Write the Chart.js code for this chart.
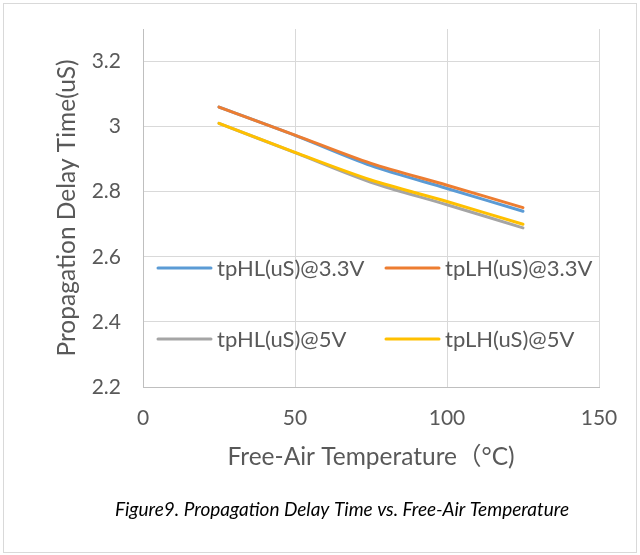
<!DOCTYPE html>
<html>
<head>
<meta charset="utf-8">
<script src="https://cdn.jsdelivr.net/npm/chart.js@4.4.0/dist/chart.umd.min.js"></script>
<style>
html,body{margin:0;padding:0;background:#fff;}
#wrap{width:640px;height:555px;position:relative;}
</style>
</head>
<body>
<div id="wrap"><canvas id="c" width="640" height="555"></canvas></div>
<script>
const temperatures = [25, 50, 75, 100, 125];
const tpHL33 = [3.06, 2.973, 2.88, 2.81, 2.74];
const tpLH33 = [3.06, 2.974, 2.887, 2.82, 2.751];
const tpHL5 = [3.01, 2.92, 2.829, 2.76, 2.689];
const tpLH5 = [3.01, 2.921, 2.836, 2.77, 2.70];
const seriesLabels = ['tpHL(uS)@3.3V', 'tpLH(uS)@3.3V', 'tpHL(uS)@5V', 'tpLH(uS)@5V'];
const seriesColors = ['#5B9BD5', '#ED7D31', '#A5A5A5', '#FFC000'];
const xTicks = [0, 50, 100, 150];
const yTicks = [2.2, 2.4, 2.6, 2.8, 3.0, 3.2];
const captionText = 'Figure9. Propagation Delay Time vs. Free-Air Temperature';

const seriesValues = [tpHL33, tpLH33, tpHL5, tpLH5];
const FONT = "Lato, 'Noto Sans CJK SC', sans-serif";
const TXT = '#595959';

const datasets = seriesValues.map((vals, i) => ({
  label: seriesLabels[i],
  data: vals.map((v, j) => ({x: temperatures[j], y: v})),
  borderColor: seriesColors[i],
  backgroundColor: seriesColors[i],
  borderWidth: 3,
  pointRadius: 0,
  tension: 0.3,
  fill: false,
  order: seriesValues.length - i,
  borderCapStyle: 'round'
}));

const frame = {
  id: 'frame',
  beforeDraw(chart) {
    const ctx = chart.ctx;
    ctx.save();
    ctx.fillStyle = '#fff';
    ctx.fillRect(0, 0, chart.width, chart.height);
    ctx.strokeStyle = '#d9d9d9';
    ctx.lineWidth = 1;
    ctx.strokeRect(3.5, 3.5, 633, 549);
    ctx.fillStyle = '#000';
    ctx.font = "italic 19px " + FONT;
    ctx.textAlign = 'center';
    ctx.textBaseline = 'middle';
    ctx.fillText(captionText, 342, 510);
    ctx.restore();
  }
};

const legendInside = {
  id: 'legendInside',
  afterDatasetsDraw(chart) {
    const ctx = chart.ctx;
    const a = chart.chartArea;
    const rows = [a.top + 239, a.top + 310];
    const cols = [a.left + 15, a.left + 243];
    ctx.save();
    ctx.font = "22px " + FONT;
    ctx.textBaseline = 'middle';
    ctx.textAlign = 'left';
    chart.data.datasets.forEach((ds, i) => {
      const r = rows[Math.floor(i / 2)];
      const c = cols[i % 2];
      ctx.strokeStyle = ds.borderColor;
      ctx.lineWidth = 3;
      ctx.lineCap = 'round';
      ctx.beginPath();
      ctx.moveTo(c, r);
      ctx.lineTo(c + 53, r);
      ctx.stroke();
      ctx.fillStyle = TXT;
      ctx.fillText(ds.label, c + 59, r + 1);
    });
    ctx.restore();
  }
};

const noPad = s => { s.paddingTop = 0; s.paddingBottom = 0; s.paddingLeft = 0; s.paddingRight = 0; };

new Chart(document.getElementById('c'), {
  type: 'line',
  data: {datasets},
  plugins: [frame, legendInside],
  options: {
    responsive: false,
    animation: false,
    devicePixelRatio: 1,
    layout: {padding: {top: 29, right: 41, left: 0, bottom: 65.2}},
    plugins: {
      legend: {display: false},
      tooltip: {enabled: false},
      title: {display: false}
    },
    scales: {
      x: {
        type: 'linear',
        min: xTicks[0],
        max: xTicks[xTicks.length - 1],
        afterBuildTicks: s => { s.ticks = xTicks.map(v => ({value: v})); },
        afterFit: s => { s.height = 102.8; noPad(s); },
        ticks: {color: TXT, font: {family: FONT, size: 21}, padding: 19, callback: v => String(v)},
        grid: {color: '#d9d9d9', lineWidth: 1, drawTicks: false},
        border: {color: '#bfbfbf', width: 1},
        title: {display: true, text: 'Free-Air Temperature（°C)', color: TXT,
                font: {family: FONT, size: 24.5, lineHeight: 1.2}, padding: {top: 0, bottom: 18}}
      },
      y: {
        type: 'linear',
        min: 2.2,
        max: 3.3,
        afterBuildTicks: s => { s.ticks = yTicks.map(v => ({value: v})); },
        afterFit: s => { s.width = 143; noPad(s); },
        ticks: {color: TXT, font: {family: FONT, size: 21}, padding: 22, callback: v => String(+(+v).toFixed(1))},
        grid: {color: '#d9d9d9', lineWidth: 1, drawTicks: false},
        border: {color: '#bfbfbf', width: 1},
        title: {display: true, text: 'Propagation Delay Time(uS)', color: TXT,
                font: {family: FONT, size: 24.5, lineHeight: 1.2}, padding: {top: 52, bottom: 0}}
      }
    }
  }
});
</script>
</body>
</html>
